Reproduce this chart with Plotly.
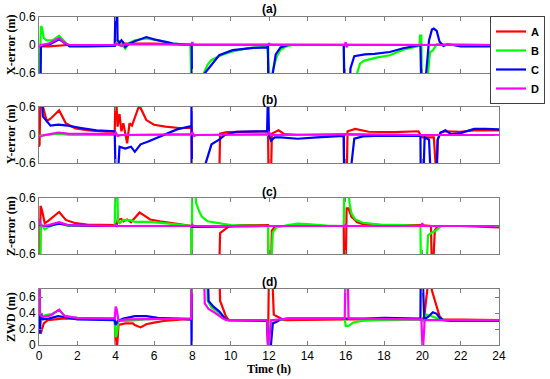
import plotly.graph_objects as go
from plotly.subplots import make_subplots

# ---------------- data (time in hours, errors in metres) ----------------
series_names = ["A", "B", "C", "D"]
series_colors = ["#FF0000", "#00FF00", "#0000FF", "#FF00FF"]
panel_titles = ["(a)", "(b)", "(c)", "(d)"]
panel_ylabels = ["X-error (m)", "Y-error (m)", "Z-error (m)", "ZWD (m)"]
x_ticks = [0, 2, 4, 6, 8, 10, 12, 14, 16, 18, 20, 22, 24]
err_ticks = [-0.6, 0, 0.6]
zwd_ticks = [0, 0.2, 0.4, 0.6]

# ---- (a) X-error ----
xa_t_A = [0, 0.05, 0.5, 1.0, 1.5, 4.0, 4.05, 6, 8.0, 8.05, 12, 16, 20, 24]
xa_A = [0, -0.03, -0.03, -0.01, 0.0, 0.0, 0.03, 0.03, 0.02, 0.01, 0.01, 0.01, 0.0, 0.0]
xa_t_B = [0, 0.06, 0.1, 0.15, 0.25, 0.4, 0.7, 1.05, 1.25, 1.5, 2, 3.95, 4.0, 4.2, 4.5, 4.7, 5.0, 5.6,
          6.5, 7.0, 7.9, 7.95, 8.55, 8.6, 8.8, 9.0, 9.5, 10, 10.5, 11, 11.9, 11.95, 12.1, 12.2, 12.4,
          12.6, 12.9, 13.2, 15.9, 15.95, 16.55, 16.6, 16.75, 16.95, 17.6, 18.3, 19.0, 19.5, 19.85,
          19.88, 19.95, 19.98, 20.25, 20.3, 20.4, 20.55, 20.75, 21.0, 22, 24]
xa_B = [-1.0, -0.3, 0.4, 0.38, 0.15, 0.1, 0.1, 0.2, 0.12, 0.0, -0.02, -0.02, 0.1, 0.08, -0.08, 0.04,
        0.1, 0.14, 0.08, 0.03, 0.0, -1.0, -1.0, -0.6, -0.42, -0.32, -0.22, -0.15, -0.1, -0.06, -0.04,
        -1.0, -1.0, -0.55, -0.25, -0.1, -0.03, 0.0, 0.0, -1.0, -1.0, -0.6, -0.4, -0.34, -0.27, -0.22,
        -0.1, -0.05, -0.02, 0.2, 0.2, -1.0, -1.0, -0.6, -0.15, -0.12, 0.02, 0.02, 0.01, 0.0]
xa_t_C = [0, 0.08, 0.1, 0.3, 0.6, 1.05, 1.3, 1.6, 2.5, 3.95, 4.0, 4.07, 4.1, 4.2, 4.3, 4.4, 4.5, 4.7,
          5.0, 5.6, 6.0, 6.5, 7.0, 7.9, 7.97, 7.98, 8.6, 8.66, 8.9, 9.4, 10.1, 11.2, 11.9, 11.95,
          11.96, 12.15, 12.2, 12.35, 12.6, 13, 15.9, 15.93, 16.2, 16.25, 16.45, 17.0, 17.5, 18.3,
          19.0, 19.5, 19.9, 19.95, 20.15, 20.2, 20.35, 20.5, 20.6, 20.75, 20.9, 21.1, 21.3, 21.6,
          22.0, 24]
xa_C = [-1.0, -1.0, -0.02, 0.0, 0.02, 0.12, 0.05, -0.03, -0.03, -0.02, 1.0, 1.0, 0.1, 0.05, 0.1,
        0.05, -0.04, 0.03, 0.08, 0.17, 0.12, 0.07, 0.03, 0.0, 0.0, -1.0, -1.0, -0.6, -0.47, -0.22,
        -0.11, -0.06, -0.05, 0.0, -1.0, -1.0, -0.6, -0.2, -0.05, 0.0, 0.0, -1.0, -1.0, -0.5, -0.24,
        -0.2, -0.19, -0.15, -0.07, -0.03, 0.0, -1.0, -1.0, -0.6, 0.1, 0.33, 0.35, 0.3, 0.07, -0.02,
        0.01, 0.0, -0.03, -0.03]
xa_t_D = [0, 0.1, 0.5, 1.05, 1.3, 1.6, 3.95, 4.0, 4.3, 4.5, 7.95, 8.0, 8.05, 11.95, 12.0, 12.05,
          15.95, 16.0, 16.05, 16.1, 19.95, 20.0, 24]
xa_D = [-0.04, 0.0, 0.03, 0.15, 0.05, 0.0, 0.0, 0.03, -0.02, 0.02, 0.01, 0.06, 0.0, 0.0, 0.04, 0.0,
        0.0, 0.06, -0.05, 0.0, 0.0, 0.0, 0.0]

# ---- (b) Y-error ----
yb_t_A = [0, 0.03, 0.08, 0.15, 0.4, 0.6, 1.05, 1.4, 1.9, 2.6, 3.5, 3.95, 4.0, 4.05, 4.1, 4.2, 4.3,
          4.4, 4.6, 4.72, 4.85, 5.2, 5.3, 5.6, 6.0, 6.6, 7.3, 7.95, 7.97, 9.4, 9.45, 9.8, 10.5, 11.95,
          11.98, 12.1, 12.15, 12.5, 12.8, 13.5, 15.9, 15.93, 16.05, 16.1, 16.5, 17.2, 18.5, 19.8,
          19.9, 20.0, 20.6, 20.65, 20.75, 20.8, 20.95, 21.2, 22, 22.7, 24]
yb_A = [-0.25, -0.2, 1.0, 0.7, 0.3, 0.35, 0.53, 0.25, 0.14, 0.1, 0.07, 0.07, 1.0, 0.6, 0.18, 0.45,
        0.08, 0.25, -0.18, 0.25, 0.2, 0.6, 0.58, 0.32, 0.22, 0.18, 0.15, 0.15, -1.0, -1.0, 0.03, 0.06,
        0.07, 0.08, -1.0, -1.0, 0.03, 0.1, 0.02, 0.0, 0.0, -1.0, -1.0, 0.08, 0.13, 0.07, 0.06, 0.08,
        0.0, -0.05, -0.05, -1.0, -1.0, -0.1, 0.05, 0.08, 0.07, 0.1, 0.1]
yb_t_B = [0, 0.5, 1.0, 1.6, 24]
yb_B = [-0.02, 0.0, 0.03, 0.0, 0.0]
yb_t_C = [0, 0.12, 0.2, 0.4, 0.6, 1.0, 1.5, 2.2, 3.0, 3.95, 4.0, 4.1, 4.2, 4.5, 4.8, 5.0, 5.3, 5.7,
          6.5, 7.2, 7.95, 7.96, 7.98, 8.65, 8.7, 9.0, 9.4, 9.7, 10.3, 11.9, 11.95, 12.0, 12.1, 12.3,
          12.6, 13.5, 14.5, 15.9, 15.92, 16.2, 16.45, 16.9, 17.5, 19.9, 19.92, 20.05, 20.12, 20.35,
          20.45, 20.72, 20.8, 20.95, 21.2, 21.5, 22.0, 22.7, 23.3, 24]
yb_C = [1.0, 1.0, 0.4, 0.3, 0.2, 0.22, 0.2, 0.15, 0.1, 0.08, -1.0, -1.0, -0.25, -0.29, -0.25, -0.36,
        -0.2, -0.14, 0.0, 0.12, 0.19, 1.0, -1.0, -1.0, -0.6, -0.2, -0.1, 0.0, 0.07, 0.08, 1.0, 0.0,
        -0.12, -0.05, -0.05, -0.08, -0.05, -0.02, -1.0, -1.0, -0.08, -0.03, -0.02, -0.02, -1.0, -1.0,
        -0.05, -0.1, -1.0, -1.0, -0.1, 0.05, 0.1, 0.02, 0.04, 0.13, 0.13, 0.12]
yb_t_D = [0, 0.3, 1.0, 1.5, 3.95, 4.0, 4.1, 4.3, 7.95, 8.0, 8.1, 8.2, 11.95, 12.0, 12.1, 16.0, 20.0, 24]
yb_D = [-0.03, 0.0, 0.05, 0.03, 0.02, 0.05, -0.02, 0.0, 0.02, 0.06, -0.02, 0.0, 0.02, 0.06, 0.0, 0.02,
        0.0, 0.0]

# ---- (c) Z-error ----
zc_t_A = [0, 0.05, 0.08, 0.15, 0.3, 0.45, 1.05, 1.4, 1.9, 2.5, 3.95, 4.05, 4.1, 4.3, 4.4, 4.6, 4.8,
          5.25, 5.4, 5.8, 6.3, 7.0, 7.9, 7.95, 7.97, 9.4, 9.45, 9.7, 9.9, 10.5, 11.95, 11.97, 12.1,
          12.15, 12.3, 12.5, 15.9, 15.92, 16.0, 16.05, 16.15, 16.3, 16.6, 17.0, 18, 19.9, 20.3,
          20.45, 20.5, 20.55, 20.65, 20.8, 22, 24]
zc_A = [-1.0, -1.0, 0.43, 0.35, 0.06, 0.1, 0.3, 0.13, 0.06, 0.03, 0.02, 0.0, 0.13, 0.15, 0.1, 0.14,
        0.08, 0.29, 0.25, 0.14, 0.1, 0.06, 0.01, 0.0, -1.0, -1.0, -0.15, -0.08, -0.01, 0.02, 0.02,
        -1.0, -1.0, -0.1, -0.02, 0.0, 0.0, -1.0, -1.0, 0.38, 0.38, 0.2, 0.08, 0.03, 0.02, 0.02, 0.0,
        0.0, -1.0, -1.0, -0.1, 0.0, 0.0, -0.03]
zc_t_B = [0, 0.06, 0.1, 0.3, 0.5, 1.05, 1.5, 3.95, 4.0, 4.08, 4.12, 4.2, 4.4, 4.8, 5.0, 5.8, 6.5,
          7.5, 7.95, 7.96, 8.0, 8.1, 8.2, 8.35, 8.5, 8.8, 9.3, 10, 11, 11.95, 11.97, 12.1, 12.2, 12.4,
          13.0, 13.5, 14.0, 15.0, 15.9, 15.93, 16.1, 16.2, 16.3, 16.5, 16.9, 17.8, 19.0, 19.9, 19.93,
          20.2, 20.3, 20.5, 20.7, 20.85, 21.0, 24]
zc_B = [-1.0, -1.0, 0.05, -0.07, -0.02, 0.07, 0.0, 0.0, 1.0, 1.0, 0.1, 0.06, 0.13, 0.12, 0.09, 0.09,
        0.06, 0.01, 0.0, -1.0, 1.0, 1.0, 0.49, 0.32, 0.2, 0.1, 0.06, 0.02, 0.01, 0.0, -1.0, -1.0,
        -0.13, -0.03, 0.02, 0.05, 0.04, 0.01, 0.0, 1.0, 1.0, 0.5, 0.27, 0.14, 0.07, 0.03, 0.02, 0.0,
        -1.0, -1.0, -0.2, -0.14, -0.1, -0.05, 0.0, 0.0]
zc_t_C = [0, 0.5, 1.05, 1.5, 3, 7.9, 8.0, 12, 24]
zc_C = [0.0, 0.0, 0.05, 0.02, 0.0, 0.0, -0.02, 0.0, 0.0]
zc_t_D = [0, 0.1, 0.5, 1.05, 1.5, 3.95, 4.0, 4.1, 7.95, 8.0, 8.05, 12, 15.95, 16.0, 16.05, 19.95,
          20.0, 20.05, 24]
zc_D = [0.15, 0.0, 0.02, 0.08, 0.02, 0.0, 0.03, 0.0, 0.0, 0.03, 0.0, 0.0, 0.0, 0.04, 0.0, 0.0, 0.06,
        0.0, 0.0]

# ---- (d) ZWD ----
zd_t_A = [0, 0.02, 0.1, 0.25, 0.45, 0.8, 1.2, 2, 3.95, 4.0, 4.08, 4.15, 4.5, 4.9, 5.0, 5.3, 5.6, 6.0,
          6.5, 7.5, 7.95, 7.97, 9.4, 9.45, 9.6, 9.75, 9.9, 11.9, 11.95, 12.0, 12.15, 12.25, 12.4,
          12.6, 12.8, 16, 20, 20.1, 20.4, 20.5, 20.6, 20.75, 20.9, 21.05, 24]
zd_A = [1.0, 0.15, 0.15, 0.27, 0.31, 0.32, 0.33, 0.33, 0.33, 0.0, 0.0, 0.25, 0.27, 0.27, 0.25, 0.22,
        0.26, 0.28, 0.3, 0.32, 0.32, 1.0, 1.0, 0.55, 0.44, 0.36, 0.31, 0.31, 0.0, 1.0, 1.0, 0.38,
        0.36, 0.33, 0.31, 0.32, 0.32, 0.35, 1.0, 0.68, 0.6, 0.48, 0.36, 0.32, 0.31]
zd_t_B = [0, 0.03, 0.3, 0.7, 1.05, 1.35, 2, 3.95, 4.0, 4.05, 4.15, 4.6, 5.5, 6.5, 7.95, 7.98, 8.75,
          8.8, 9.0, 9.3, 9.6, 9.8, 11.9, 12.0, 12.1, 12.2, 12.5, 13, 15.95, 16.0, 16.15, 16.4, 16.8,
          17.5, 19.9, 20.05, 20.2, 20.5, 20.8, 21.2, 24]
zd_B = [1.0, 0.36, 0.37, 0.39, 0.44, 0.36, 0.34, 0.33, 0.1, 0.12, 0.3, 0.3, 0.32, 0.33, 0.33, 1.0,
        1.0, 0.55, 0.47, 0.42, 0.35, 0.31, 0.31, 0.19, 0.2, 0.28, 0.31, 0.33, 0.33, 0.24, 0.24, 0.28,
        0.3, 0.31, 0.32, 0.3, 0.38, 0.36, 0.33, 0.31, 0.31]
zd_t_C = [0, 0.05, 0.1, 0.2, 0.5, 1.0, 1.3, 2, 3.95, 4.0, 4.1, 4.4, 5.0, 5.6, 6.2, 7.0, 7.95, 7.96,
          7.98, 8.8, 8.85, 9.1, 9.4, 9.75, 9.9, 11.9, 11.95, 12.1, 12.2, 12.4, 12.6, 13, 16, 17, 18,
          19.9, 19.92, 20.0, 20.1, 20.3, 20.55, 20.75, 20.9, 21.1, 21.5, 24]
zd_C = [1.0, 0.15, 0.4, 0.32, 0.33, 0.36, 0.35, 0.32, 0.31, 0.25, 0.3, 0.33, 0.36, 0.36, 0.34, 0.33,
        0.32, 0.0, 1.0, 1.0, 0.55, 0.48, 0.42, 0.32, 0.31, 0.3, 0.0, 0.0, 0.27, 0.29, 0.32, 0.33,
        0.33, 0.33, 0.34, 0.33, 1.0, 1.0, 0.32, 0.35, 0.41, 0.39, 0.34, 0.31, 0.3, 0.3]
zd_t_D = [0, 0.05, 0.2, 0.6, 1.05, 1.35, 2, 3.95, 4.0, 4.05, 4.15, 4.5, 7.95, 8.0, 8.6, 8.65, 8.85,
          9.2, 9.6, 9.8, 11.9, 11.95, 12.0, 12.1, 13, 15.95, 16.0, 16.1, 16.15, 19.95, 20.0, 20.05,
          20.12, 24]
zd_D = [1.0, 0.38, 0.35, 0.37, 0.44, 0.36, 0.34, 0.33, 0.48, 0.45, 0.3, 0.32, 0.33, 1.0, 1.0, 0.52,
        0.45, 0.4, 0.33, 0.31, 0.31, 0.0, 0.0, 0.31, 0.33, 0.33, 1.0, 1.0, 0.33, 0.32, 0.0, 0.0, 0.31,
        0.31]

panels = [
    [(xa_t_A, xa_A), (xa_t_B, xa_B), (xa_t_C, xa_C), (xa_t_D, xa_D)],
    [(yb_t_A, yb_A), (yb_t_B, yb_B), (yb_t_C, yb_C), (yb_t_D, yb_D)],
    [(zc_t_A, zc_A), (zc_t_B, zc_B), (zc_t_C, zc_C), (zc_t_D, zc_D)],
    [(zd_t_A, zd_A), (zd_t_B, zd_B), (zd_t_C, zd_C), (zd_t_D, zd_D)],
]

# ---------------- figure ----------------
W, H = 550, 379
fig = make_subplots(rows=4, cols=1)

for r, panel in enumerate(panels, start=1):
    for k, (t, v) in enumerate(panel):
        fig.add_trace(go.Scatter(
            x=t, y=v, mode="lines", name=series_names[k],
            line=dict(color=series_colors[k], width=2.2),
            showlegend=(r == 1),
        ), row=r, col=1)

# plot-area pixel boxes (top, bottom)
px_left, px_right = 39, 499
boxes = [(17, 73), (107, 163), (198, 254), (289, 345)]
title_y = [9, 100, 192, 282]
axis_col = "#7f7f7f"
tick_font = dict(family="Liberation Sans, Arial, sans-serif", size=12, color="black")

for i, (top, bot) in enumerate(boxes):
    xa = "xaxis" if i == 0 else f"xaxis{i+1}"
    ya = "yaxis" if i == 0 else f"yaxis{i+1}"
    fig.layout[xa].update(
        domain=[px_left / W, px_right / W], range=[0, 24], tickvals=x_ticks,
        showticklabels=(i == 3), ticks="inside", ticklen=4, tickcolor=axis_col,
        showline=True, linecolor=axis_col, linewidth=1, mirror="ticks",
        showgrid=False, zeroline=False, tickfont=tick_font, automargin=False,
    )
    if i < 3:
        yr, yt = [-0.6, 0.6], err_ticks
    else:
        yr, yt = [0, 0.7], zwd_ticks
    fig.layout[ya].update(
        domain=[1 - bot / H, 1 - top / H], range=yr, tickvals=yt,
        ticktext=[("%g" % v) for v in yt],
        ticks="inside", ticklen=4, tickcolor=axis_col,
        showline=True, linecolor=axis_col, linewidth=1, mirror="ticks",
        showgrid=False, zeroline=False, tickfont=tick_font, automargin=False,
    )
    fig.add_annotation(
        text=f"<b>{panel_titles[i]}</b>", xref="paper", yref="paper",
        x=(px_left + px_right) / 2 / W, y=1 - title_y[i] / H, showarrow=False,
        font=dict(family="Liberation Sans, Arial, sans-serif", size=12, color="black"),
        xanchor="center", yanchor="middle",
    )
    fig.add_annotation(
        text=f"<b>{panel_ylabels[i]}</b>", xref="paper", yref="paper",
        x=11 / W, y=1 - (top + bot) / 2 / H, showarrow=False, textangle=-90,
        font=dict(family="Liberation Serif, Times New Roman, serif", size=12, color="black"),
        xanchor="center", yanchor="middle",
    )

fig.add_annotation(
    text="<b>Time (h)</b>", xref="paper", yref="paper",
    x=(px_left + px_right) / 2 / W, y=1 - 369 / H, showarrow=False,
    font=dict(family="Liberation Serif, Times New Roman, serif", size=12, color="black"),
    xanchor="center", yanchor="middle",
)

fig.update_layout(
    width=W, height=H, margin=dict(l=0, r=0, t=0, b=0, autoexpand=False),
    paper_bgcolor="white", plot_bgcolor="white",
    showlegend=True,
    legend=dict(
        x=545 / W, y=1 - 16 / H, xanchor="right", yanchor="top",
        bordercolor="#404040", borderwidth=1, bgcolor="white",
        font=dict(family="Liberation Sans, Arial, sans-serif", size=11, color="black", weight="bold"),
        itemwidth=30, tracegroupgap=0,
    ),
)

fig.write_html("out.html", config={"displayModeBar": False},
               post_script="document.body.style.margin='0';")
